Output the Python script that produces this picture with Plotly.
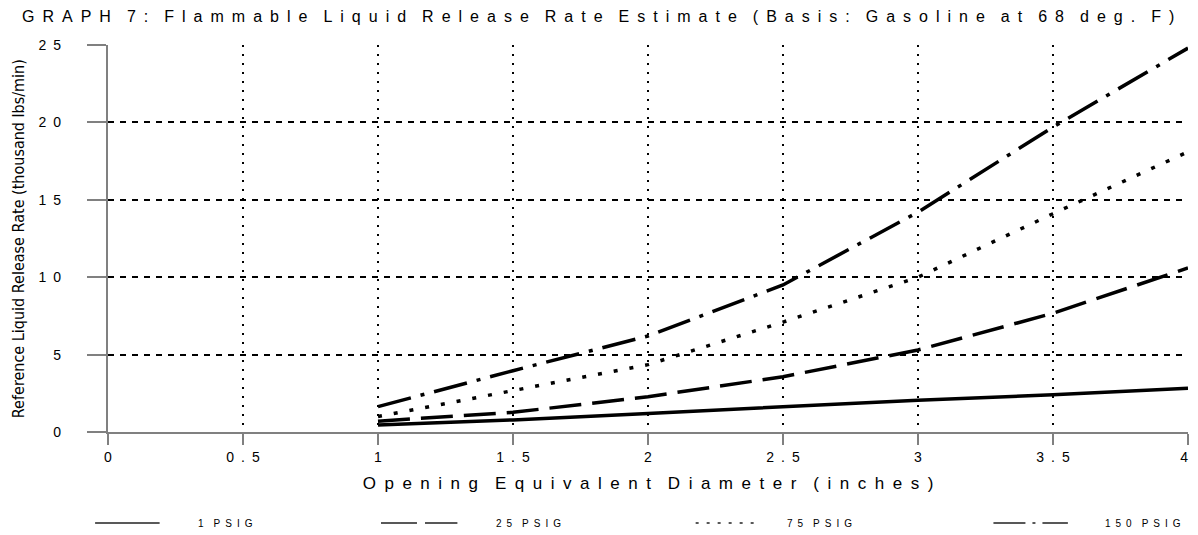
import plotly.graph_objects as go

diameter = [1, 1.5, 2, 2.5, 3, 3.5, 4]
rate_1psig = [0.45, 0.78, 1.2, 1.64, 2.05, 2.4, 2.82]
rate_25psig = [0.7, 1.27, 2.28, 3.57, 5.3, 7.67, 10.6]
rate_75psig = [1.0, 2.7, 4.35, 7.1, 10.0, 14.1, 18.1]
rate_150psig = [1.64, 3.96, 6.2, 9.5, 14.2, 19.7, 24.8]

series_names = ["1 PSIG", "25 PSIG", "75 PSIG", "150 PSIG"]
x_ticks = [0, 0.5, 1, 1.5, 2, 2.5, 3, 3.5, 4]
y_ticks = [0, 5, 10, 15, 20, 25]

EN = "\u2002"
GHOST = "<span style='color:rgba(0,0,0,0)'>{}</span>"


def spaced(s, sep=EN):
    # old-school letter-spaced text
    return (sep * 2).join(sep.join(w) for w in s.split(" "))


# page is shifted 8px by the body margin, so work in page pixels and convert
PAGE_OFF = 8
X0, X1, Y0, Y1 = 108, 1196, 432, 45


def px_x(p):
    return (p - X0) / (X1 - X0)


def px_y(p):
    return (Y0 - p) / (Y0 - Y1)


dashes = ["solid", "32px,11px", "4px,12px", "34px,10px,4px,10px"]
legend_dashes = ["solid", "36px,8px", "3px,8px", "32px,7px,3px,7px"]
rates = [rate_1psig, rate_25psig, rate_75psig, rate_150psig]

fig = go.Figure()
for name, ys, dash in zip(series_names, rates, dashes):
    fig.add_trace(go.Scatter(
        x=diameter, y=ys, mode="lines", name=name,
        line=dict(color="black", width=3.5, dash=dash),
    ))

# hand-made legend row at the bottom, like the original printout
leg_y = 523
leg_samples = [(95, 160), (383, 460), (700, 760), (1000, 1075)]
leg_text_x = [197, 497, 790, 1110]
shapes = []
annotations = []
for name, (a, b), tx, dash in zip(series_names, leg_samples, leg_text_x, legend_dashes):
    shapes.append(dict(type="line", xref="paper", yref="paper",
                       x0=px_x(a), x1=px_x(b), y0=px_y(leg_y), y1=px_y(leg_y),
                       line=dict(color="#222222", width=1.3, dash=dash)))
    annotations.append(dict(text=spaced(name), xref="paper", yref="paper",
                            x=px_x(tx), y=px_y(leg_y), xanchor="left", yanchor="middle",
                            showarrow=False, font=dict(size=10)))

# narrow rotated y title
annotations.append(dict(
    text="Reference Liquid Release Rate (thousand lbs/min)",
    xref="paper", yref="paper", x=px_x(18), y=0.5, textangle=-90,
    xanchor="center", yanchor="middle", showarrow=False,
    font=dict(size=16, family="Liberation Sans Narrow, DejaVu Sans Condensed, Liberation Sans, sans-serif"),
))

fig.update_layout(
    width=1198 - PAGE_OFF, height=535 - PAGE_OFF,
    paper_bgcolor="white", plot_bgcolor="white",
    margin=dict(l=X0 - PAGE_OFF, r=1198 - X1, t=Y1 - PAGE_OFF, b=535 - Y0),
    font=dict(family="Liberation Sans, Arial, sans-serif", color="black"),
    title=dict(
        text=spaced("GRAPH 7: Flammable Liquid Release Rate Estimate (Basis: Gasoline at 68 deg. F)"),
        font=dict(size=16), x=(22 - PAGE_OFF) / 1190, xanchor="left",
        y=1 - 3 / 527, yanchor="top",
    ),
    showlegend=False,
    shapes=shapes,
    annotations=annotations,
)

x_labels = [spaced(str(v)) for v in x_ticks]
x_labels[-1] = x_labels[-1] + GHOST.format("0")

fig.update_xaxes(
    range=[0, 4], tickvals=x_ticks, ticktext=x_labels,
    showline=True, linecolor="#808080", linewidth=1.5,
    ticks="outside", ticklen=11, tickcolor="#808080", tickwidth=1.5,
    tickfont=dict(size=14), ticklabeloverflow="allow",
    showgrid=True, gridcolor="black", gridwidth=2, griddash="2px,7px",
    zeroline=False,
    title=dict(text=spaced("Opening Equivalent Diameter (inches)"), font=dict(size=17), standoff=14),
)
fig.update_yaxes(
    range=[0, 25], tickvals=y_ticks,
    ticktext=[spaced(str(v)) + GHOST.format("000") for v in y_ticks],
    showline=True, linecolor="#808080", linewidth=1.5,
    ticks="outside", ticklen=19, tickcolor="#808080", tickwidth=1.5,
    tickfont=dict(size=14),
    showgrid=True, gridcolor="black", gridwidth=1.5, griddash="6px,6px",
    zeroline=False,
)

fig.write_html("out.html")
